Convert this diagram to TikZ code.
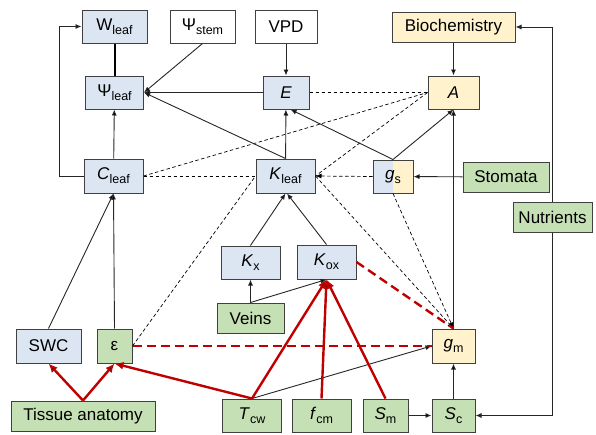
\documentclass[tikz,border=0pt]{standalone}
\usepackage{fontspec}
\setmainfont{Liberation Sans}
\usetikzlibrary{positioning,arrows.meta}

\definecolor{leafblue}{HTML}{DCE6F2}
\definecolor{chemyellow}{HTML}{FFF2CC}
\definecolor{anatgreen}{HTML}{C5E0B4}
\definecolor{boxgray}{HTML}{404040}
\definecolor{anatred}{HTML}{C00000}

\newcommand\subtxt[1]{\raisebox{-4pt}{\fontsize{12.5}{13}\selectfont #1}}

\begin{document}
\begin{tikzpicture}[x=1pt, y=-1pt, >={Latex[length=6pt,width=5pt]},
		main node/.style={draw=boxgray, line width=1pt, inner sep=0pt,
			minimum height=33pt, font=\fontsize{17}{19}\selectfont},
		blue node/.style={main node, fill=leafblue},
		yellow node/.style={main node, fill=chemyellow},
		green node/.style={main node, fill=anatgreen, minimum height=30pt},
		plain node/.style={main node, fill=white},
		link/.style={draw=black!85, line width=0.9pt},
		weak link/.style={draw=black, line width=0.7pt, dash pattern=on 3.5pt off 2.5pt},
		red link/.style={draw=anatred, line width=2.4pt, >={Latex[length=9pt,width=8pt]}},
		red dash/.style={draw=anatred, line width=2.4pt, dash pattern=on 9pt off 5pt}]
		
		\useasboundingbox (0,0) rectangle (596,434);
		
		% top row
		\node[blue node, minimum width=65pt] (Wleaf) at (114.5,26.5) {W\subtxt{leaf}};
		\node[plain node, minimum width=65pt] (Psistem) at (202.5,26.5) {Ψ\subtxt{stem}};
		\node[plain node, minimum width=62pt] (VPD) at (286,26.5) {VPD};
		\node[yellow node, minimum width=123pt, minimum height=30pt] (Biochem) at (453.5,27) {Biochemistry};
		
		% second row
		\node[blue node, minimum width=58pt] (Psileaf) [below of=Wleaf, node distance=66pt] {Ψ\subtxt{leaf}};
		\node[blue node, minimum width=46pt] (E) [below of=VPD, node distance=66pt] {\textit{E}};
		\node[yellow node, minimum width=51pt] (A) [below of=Biochem, node distance=65.5pt] {\textit{A}};
		
		% third row
		\node[blue node, minimum width=59pt, minimum height=34pt] (Cleaf) at (113.5,176) {\textit{C}\subtxt{leaf}};
		\node[blue node, minimum width=59pt, minimum height=34pt] (Kleaf) at (285.5,176) {\textit{K}\subtxt{leaf}};
		\node[main node, minimum width=40pt, path picture={
				\fill[leafblue] (path picture bounding box.south west) rectangle (path picture bounding box.north);
				\fill[chemyellow] (path picture bounding box.south) rectangle (path picture bounding box.north east);}]
			(gs) at (393,176.5) {\textit{g}\subtxt{s}};
		\node[green node, minimum width=86pt] (Stomata) at (506,177) {Stomata};
		\node[green node, minimum width=79pt] (Nutrients) at (552.5,217) {Nutrients};
		
		% hydraulics
		\node[blue node, minimum width=59pt] (Kx) at (250.5,262.5) {\textit{K}\subtxt{x}};
		\node[blue node, minimum width=59pt, minimum height=34pt] (Kox) at (326.5,262) {\textit{K}\subtxt{ox}};
		\node[green node, minimum width=67pt] (Veins) [below of=Kx, node distance=55.5pt] {Veins};
		
		% fourth row
		\node[blue node, minimum width=65pt, minimum height=34pt] (SWC) at (48.5,346) {SWC};
		\node[green node, minimum width=35pt, minimum height=34pt] (eps) at (114.5,346) {ε};
		\node[yellow node, minimum width=43pt, minimum height=34pt] (gm) at (453.5,346) {\textit{g}\subtxt{m}};
		
		% anatomy row
		\node[green node, minimum width=144pt] (Tissue) at (83,416) {Tissue anatomy};
		\node[green node, minimum width=59pt, minimum height=33pt] (Tcw) at (252,415.5) {\textit{T}\subtxt{cw}};
		\node[green node, minimum width=59pt, minimum height=33pt] (fcm) at (321.5,415.5) {\textit{f}\subtxt{cm}};
		\node[green node, minimum width=45pt, minimum height=33pt] (Sm) at (385.5,415.5) {\textit{S}\subtxt{m}};
		\node[green node, minimum width=43pt, minimum height=33pt] (Sc) at (453.5,415.5) {\textit{S}\subtxt{c}};
		
		\coordinate (loop) at (59,176);
		
		% dashed links
		\path[weak link]
		(E.east) edge (A.west)
		(Cleaf.east) edge (A.west)
		(Cleaf.east) edge (Kleaf.west)
		(A.west) edge (Kleaf.east)
		(gs.west) edge [->] (Kleaf.east)
		(Kleaf.east) edge [->] (gm.north)
		(gs.south) edge [->] (gm.north)
		(eps.east) edge (Kleaf.west);
		
		% solid links
		\draw[black, line width=2pt] (Wleaf) -- (Psileaf);
		\path[link]
		(Psistem.south) edge [->] (Psileaf.east)
		(E.west) edge [->] (Psileaf.east)
		(Kleaf.north) edge [->] (Psileaf.east)
		(VPD) edge [->] (E)
		(Kleaf) edge [->] (E)
		(gs.north) edge [->] (E.-75)
		(gs.north) edge [->] (A.south)
		(Biochem) edge [->] (A)
		(Stomata) edge [->] (gs)
		(Cleaf) edge [->] (Psileaf)
		(SWC.north) edge [->] (Cleaf.south)
		(eps.north) edge [->] (Cleaf.south)
		(Kx.north) edge [->] (Kleaf.south)
		(Kox.north) edge [->] (Kleaf.-85)
		(Veins) edge [->] (Kx)
		(Veins.north) edge [->] (Kox.south)
		(Tcw.north) edge [->] (gm.west)
		(Sm) edge [->] (Sc)
		(Sc) edge [->] (gm)
		(gm) edge [->] (A);
		\draw[link, ->] (Cleaf.west) -- (loop) |- (Wleaf.west);
		\draw[link, ->] (Nutrients.north) |- (Biochem.east);
		\draw[link, ->] (Nutrients.south) |- (Sc.east);
		
		% anatomy links
		\path[red dash]
		(eps.east) edge (gm.west)
		(Kox.east) edge (gm.north);
		\path[red link]
		(Tissue.north) edge [->] (SWC.south)
		(Tissue.north) edge [->] (eps.south)
		(Tcw.north) edge [->] (eps.south)
		(Tcw.north) edge [->] (Kox.south)
		(fcm.north) edge [->] (Kox.south)
		(Sm.north) edge [->] (Kox.south);
		\end{tikzpicture}
\end{document}
